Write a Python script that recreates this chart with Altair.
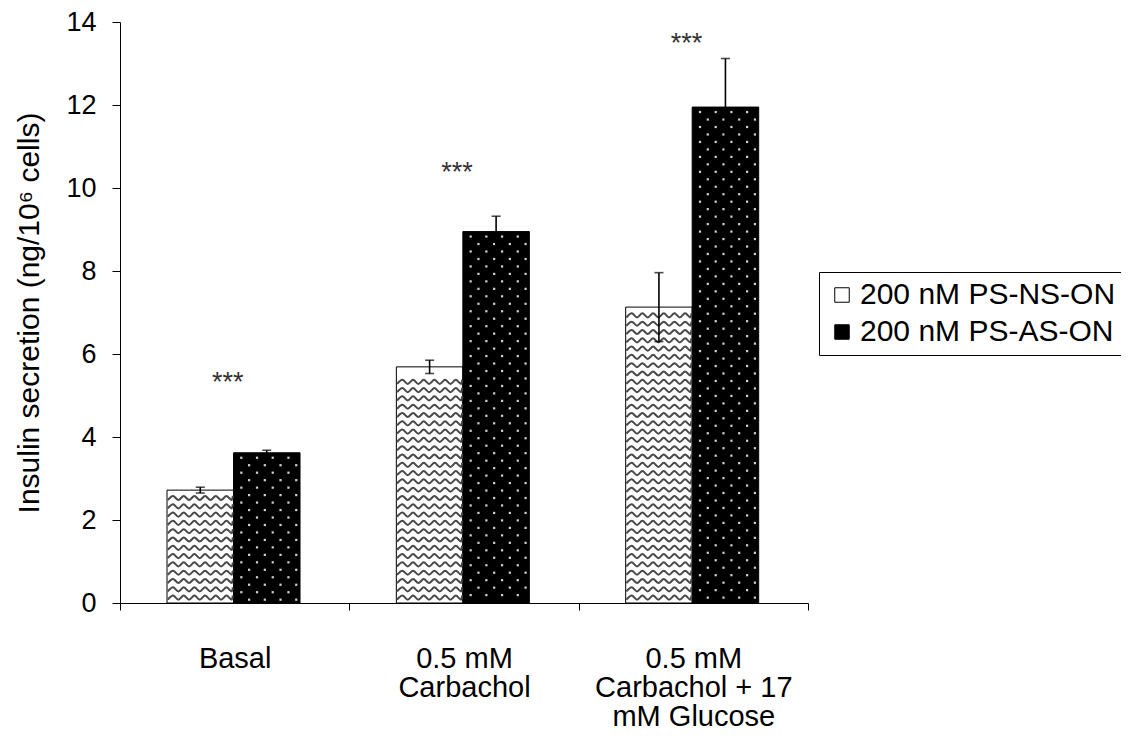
import altair as alt
import pandas as pd

# ---- data ----
categories = ["Basal", "0.5 mM Carbachol", "0.5 mM Carbachol + 17 mM Glucose"]
category_lines = [["Basal"], ["0.5 mM", "Carbachol"], ["0.5 mM", "Carbachol + 17", "mM Glucose"]]
series = ["200 nM PS-NS-ON", "200 nM PS-AS-ON"]
ns_values = [2.72, 5.69, 7.13]
ns_errors = [0.07, 0.16, 0.83]
as_values = [3.62, 8.95, 11.95]
as_errors = [0.06, 0.37, 1.17]
sig_labels = ["***", "***", "***"]
sig_heights = [5.42, 10.48, 13.58]
y_ticks = [0, 2, 4, 6, 8, 10, 12, 14]
y_title = "Insulin secretion (ng/10\u2076 cells)"

FONT = "Liberation Sans"

rows = []
for i, c in enumerate(categories):
    rows.append(dict(idx=i, category=c, series=series[0], s=0,
                     value=ns_values[i], err=ns_errors[i]))
    rows.append(dict(idx=i, category=c, series=series[1], s=1,
                     value=as_values[i], err=as_errors[i]))
df = pd.DataFrame(rows)
sig_df = pd.DataFrame(dict(idx=list(range(len(categories))), label=sig_labels, y=sig_heights))

# label expression for multi-line category labels at band centres
parts = []
for i, lines in enumerate(category_lines):
    arr = "[" + ",".join("'" + l + "'" for l in lines) + "]"
    parts.append(f"datum.value == {i + 0.5} ? {arr} : ")
label_expr = "".join(parts) + "''"

xscale = alt.Scale(domain=[0, len(categories)], nice=False, zero=False)
yscale = alt.Scale(domain=[0, 14], nice=False, zero=True)

xaxis = alt.Axis(
    values=[0, 0.5, 1, 1.5, 2, 2.5, 3],
    labelExpr=label_expr,
    tickOpacity={"condition": {"test": "datum.value % 1 === 0", "value": 1}, "value": 0},
    tickSize=7, tickColor="black", tickWidth=1,
    domainColor="black", domainWidth=1,
    labelFontSize=29, labelFont=FONT, labelColor="black",
    labelPadding=34, labelLineHeight=29, labelBaseline="top",
    labelFlush=False, labelOverlap=False, labelBound=False, labelLimit=400,
    grid=False, title=None,
)
yaxis = alt.Axis(
    values=y_ticks, tickSize=8, tickColor="black", tickWidth=1,
    domainColor="black", domainWidth=1,
    labelFontSize=27, labelFont=FONT, labelColor="black", labelPadding=16,
    titleFontSize=30, titleFont=FONT, titleFontWeight="normal", titleColor="black",
    titlePadding=21, grid=False, title=y_title,
)

BAR_START = 0.205
BAR_W = 0.29

base = alt.Chart(df).transform_calculate(
    x0=f"datum.idx + {BAR_START} + datum.s * {BAR_W}",
).transform_calculate(
    x1=f"datum.x0 + {BAR_W}",
    xc=f"datum.x0 + {BAR_W / 2}",
    lo="datum.value - datum.err",
    hi="datum.value + datum.err",
    zero="0",
)

bars = base.mark_bar(stroke="black", strokeWidth=1).encode(
    x=alt.X("x0:Q", scale=xscale, axis=xaxis, title=None),
    x2="x1:Q",
    y=alt.Y("value:Q", scale=yscale, axis=yaxis, title=y_title),
    y2="zero:Q",
    fill=alt.Fill(
        "series:N",
        scale=alt.Scale(domain=series, range=["white", "black"]),
        legend=alt.Legend(
            title=None, orient="none", legendX=699, legendY=250,
            strokeColor="black", padding=8, fillColor="white",
            symbolType="square", symbolSize=210, symbolStrokeColor="black",
            symbolStrokeWidth=1, labelFontSize=30, labelFont=FONT,
            labelColor="black", labelOffset=3, rowPadding=7, labelLimit=500,
        ),
    ),
)

# wave texture on the NS bars
waves = base.transform_filter("datum.s == 0").transform_calculate(
    rws="sequence(0, floor((datum.value - 0.1) / 0.2))"
).transform_flatten(["rws"], as_=["r"]).transform_calculate(
    pts="sequence(0, 14)"
).transform_flatten(["pts"], as_=["p"]).transform_calculate(
    wx="min(datum.x0 + 0.003 + datum.p * 0.0233, datum.x1 - 0.003)",
    wy="datum.r * 0.2 + 0.08 + (datum.p % 2) * 0.1",
    key="datum.idx * 1000 + datum.r",
).mark_line(color="#4a4a4a", strokeWidth=2, interpolate="monotone").encode(
    x=alt.X("wx:Q", scale=xscale),
    y=alt.Y("wy:Q", scale=yscale),
    detail="key:N",
    order="p:Q",
)

# dotted texture on the AS bars
dots = base.transform_filter("datum.s == 1").transform_calculate(
    rws="sequence(0, floor(datum.value / 0.18) + 1)"
).transform_flatten(["rws"], as_=["r"]).transform_calculate(
    cls="sequence(0, 5)"
).transform_flatten(["cls"], as_=["c"]).transform_calculate(
    px="datum.x0 + 0.034 + (datum.r % 2) * 0.034 + datum.c * 0.0685",
    py="datum.value - 0.12 - datum.r * 0.18",
).transform_filter(
    "datum.px < datum.x1 - 0.01 && datum.py > 0.04"
).mark_square(size=5, color="#d0d0d0", opacity=1).encode(
    x=alt.X("px:Q", scale=xscale),
    y=alt.Y("py:Q", scale=yscale),
)

err_rule = base.mark_rule(color="black", strokeWidth=1.6).encode(
    x=alt.X("xc:Q", scale=xscale),
    y=alt.Y("lo:Q", scale=yscale),
    y2="hi:Q",
)
cap_hi = base.mark_tick(orient="horizontal", size=9, thickness=1.6, color="black").encode(
    x=alt.X("xc:Q", scale=xscale),
    y=alt.Y("hi:Q", scale=yscale),
)
cap_lo = base.mark_tick(orient="horizontal", size=9, thickness=1.6, color="black").encode(
    x=alt.X("xc:Q", scale=xscale),
    y=alt.Y("lo:Q", scale=yscale),
)

sig = alt.Chart(sig_df).transform_calculate(
    sx="datum.idx + 0.47"
).mark_text(fontSize=27, font=FONT, color="#333333", baseline="alphabetic", dy=13).encode(
    x=alt.X("sx:Q", scale=xscale),
    y=alt.Y("y:Q", scale=yscale),
    text="label:N",
)

chart = alt.layer(bars, waves, dots, err_rule, cap_hi, cap_lo, sig).properties(
    width=688,
    height=581,
    padding={"left": 112, "top": 14, "right": 313, "bottom": 129},
    autosize=alt.AutoSizeParams(type="none"),
    background="white",
).configure_view(stroke=None)

chart.save("out.html", embed_options={"renderer": "svg", "actions": False})
